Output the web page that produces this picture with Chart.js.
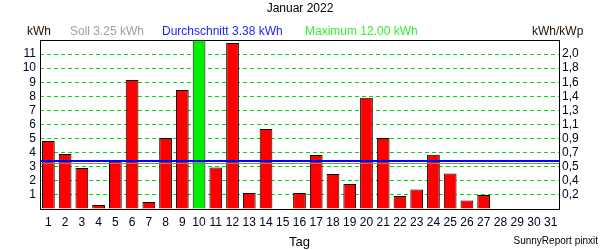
<!DOCTYPE html>
<html>
<head>
<meta charset="utf-8">
<script src="https://cdn.jsdelivr.net/npm/chart.js@4.4.1/dist/chart.umd.min.js"></script>
<style>
  html, body { margin: 0; padding: 0; background: #fff; }
  #wrap { width: 600px; height: 250px; }
</style>
</head>
<body>
<div id="wrap"><canvas id="dayChart" width="600" height="250"></canvas></div>
<script>
// Tage im Januar 2022
var days = ['1','2','3','4','5','6','7','8','9','10','11','12','13','14','15','16',
            '17','18','19','20','21','22','23','24','25','26','27','28','29','30','31'];
// Tagesertrag in kWh
var yieldKwh = [4.83, 3.91, 2.91, 0.29, 3.48, 9.16, 0.50, 5.04, 8.45, 12.00,
                2.94, 11.78, 1.14, 5.68, 0, 1.14, 3.84, 2.49, 1.78, 7.90,
                5.05, 0.93, 1.38, 3.86, 2.52, 0.60, 1.00, 0, 0, 0, 0];
var sollKwh = 3.25;
var avgKwh = 3.38;
var maxKwh = 12.00;
// rechte Achse kWh/kWp, Beschriftung fuer 1..11 kWh
var kwpLabels = ['0,2','0,4','0,5','0,7','0,9','1,1','1,3','1,4','1,6','1,8','2,0'];

var FONT = '"Liberation Sans", Arial, sans-serif';

var barColors = yieldKwh.map(function (v) {
    return v >= maxKwh ? '#00ee00' : '#ff0000';
});

// Kopfzeile, Soll/Durchschnitt-Linien und Rahmen
var decoPlugin = {
    id: 'deco',
    afterDraw: function (chart) {
        var c = chart.ctx;
        var a = chart.chartArea;
        var y = chart.scales.y;
        c.save();
        c.textBaseline = 'middle';
        c.font = '12px ' + FONT;
        c.textAlign = 'center';
        c.fillStyle = '#000';
        c.fillText('Januar 2022', 300, 9);

        c.textAlign = 'left';
        c.fillStyle = '#201000';
        c.fillText('kWh', 27, 32);
        c.fillStyle = '#a0a0a0';
        c.fillText('Soll ' + sollKwh.toFixed(2) + ' kWh', 70, 32);
        c.fillStyle = '#2020ff';
        c.fillText('Durchschnitt ' + avgKwh.toFixed(2) + ' kWh', 162, 32);
        c.fillStyle = '#33ee33';
        c.fillText('Maximum ' + maxKwh.toFixed(2) + ' kWh', 305, 32);
        c.fillStyle = '#201000';
        c.fillText('kWh/kWp', 532, 32);

        c.font = '10px ' + FONT;
        c.textAlign = 'right';
        c.fillStyle = '#000';
        c.fillText('SunnyReport pinxit', 598, 241);

        // Soll (grau) und Durchschnitt (blau)
        var ys = Math.round(y.getPixelForValue(sollKwh)) + 0.5;
        c.strokeStyle = '#808080';
        c.lineWidth = 1;
        c.beginPath(); c.moveTo(a.left, ys); c.lineTo(a.right, ys); c.stroke();
        var ya = Math.round(y.getPixelForValue(avgKwh));
        c.strokeStyle = '#0000ff';
        c.lineWidth = 2;
        c.beginPath(); c.moveTo(a.left, ya); c.lineTo(a.right, ya); c.stroke();

        c.strokeStyle = '#000';
        c.lineWidth = 1;
        c.strokeRect(Math.round(a.left) + 0.5, Math.round(a.top) + 0.5,
                     Math.round(a.right - a.left), Math.round(a.bottom - a.top));
        c.restore();
    }
};

var ctx = document.getElementById('dayChart').getContext('2d');
var dayChart = new Chart(ctx, {
    type: 'bar',
    data: {
        labels: days,
        datasets: [{
            data: yieldKwh,
            backgroundColor: barColors,
            borderColor: '#000',
            borderWidth: 1,
            borderSkipped: 'start',
            barPercentage: 0.76,
            categoryPercentage: 1.0
        }]
    },
    options: {
        responsive: false,
        animation: false,
        layout: { padding: { top: 40, left: 0, right: 0, bottom: 0 } },
        plugins: {
            legend: { display: false },
            tooltip: { enabled: false }
        },
        scales: {
            x: {
                grid: { display: false, drawTicks: false },
                border: { display: false },
                ticks: { color: '#000020', font: { family: FONT, size: 12 }, padding: 6, maxRotation: 0, autoSkip: false },
                title: { display: true, text: 'Tag', color: '#000', font: { family: FONT, size: 13 }, padding: { top: 2, bottom: 0 } },
                afterFit: function (s) { s.height = 41; }
            },
            y: {
                position: 'left',
                min: 0,
                max: 12,
                z: 1,
                border: { display: false, dash: [4, 3] },
                grid: {
                    drawTicks: false,
                    color: function (c) { return (c.tick.value >= 1 && c.tick.value <= 11) ? '#00dd00' : 'rgba(0,0,0,0)'; },
                    lineWidth: 1
                },
                ticks: {
                    stepSize: 1,
                    autoSkip: false,
                    padding: 4,
                    color: '#000020',
                    font: { family: FONT, size: 12 },
                    callback: function (v) { return (v >= 1 && v <= 11) ? String(v) : ''; }
                },
                afterFit: function (s) { s.width = 40; }
            },
            y2: {
                position: 'right',
                min: 0,
                max: 12,
                border: { display: false },
                grid: { display: false, drawTicks: false },
                ticks: {
                    stepSize: 1,
                    autoSkip: false,
                    padding: 3,
                    color: '#000020',
                    font: { family: FONT, size: 12 },
                    callback: function (v) { return (v >= 1 && v <= 11) ? kwpLabels[v - 1] : ''; }
                },
                afterFit: function (s) { s.width = 41; }
            }
        }
    },
    plugins: [decoPlugin]
});
</script>
</body>
</html>
